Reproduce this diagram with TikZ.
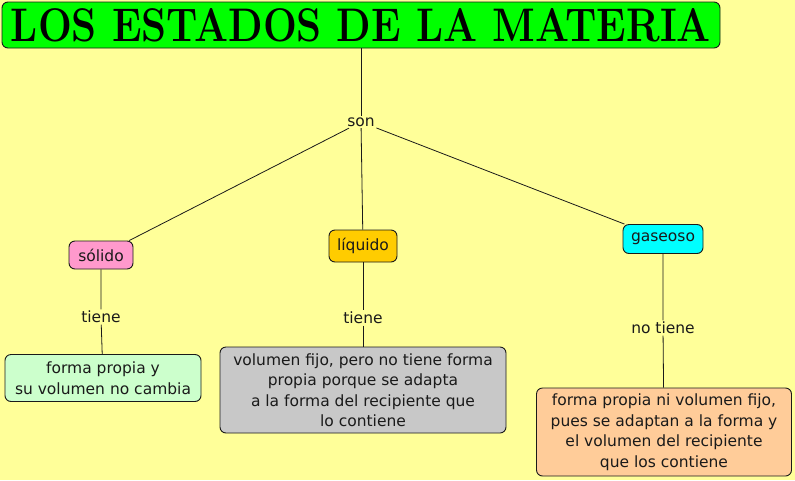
\documentclass[tikz,border=0pt]{standalone}
\usepackage{fontspec}
\setsansfont{DejaVu Sans}
\usetikzlibrary{positioning}
\definecolor{Paper}{HTML}{FFFF99}
\definecolor{TitleGreen}{HTML}{00FF00}
\definecolor{SolidPink}{HTML}{FF99CC}
\definecolor{LiquidGold}{HTML}{FFCC00}
\definecolor{GasCyan}{HTML}{00FFFF}
\definecolor{MintBox}{HTML}{CCFFCC}
\definecolor{GreyBox}{HTML}{C8C8C8}
\definecolor{PeachBox}{HTML}{FFCC99}
\definecolor{Ink}{HTML}{1A1A1A}
\tikzset{
  concept/.style={draw=Ink,line width=0.9pt,rounded corners=6pt,inner sep=2pt,
    font=\sffamily\fontsize{15.5}{20.5}\selectfont,text=Ink,align=center},
  linkword/.style={fill=Paper,inner sep=1.5pt,font=\sffamily\fontsize{15.5}{20.5}\selectfont,text=Ink},
  link/.style={draw=Ink,line width=0.8pt}
}
\begin{document}
\begin{tikzpicture}[x=1pt,y=-1pt]
\useasboundingbox[fill=Paper] (0,0) rectangle (795,480);
% title
\node[concept,fill=TitleGreen,minimum width=718pt,minimum height=46pt,text=black] (title) at (361,25)
  {\resizebox{700pt}{33pt}{\rmfamily\bfseries LOS ESTADOS DE LA MATERIA}};
\node[linkword] (son) at (361,122) {son};
% states
\node[concept,fill=SolidPink,minimum width=64pt,minimum height=28pt] (solido) at (101,255) {sólido};
\node[concept,fill=LiquidGold,minimum width=68pt,minimum height=32pt] (liquido) at (363,246) {líquido};
\node[concept,fill=GasCyan,minimum width=80pt,minimum height=29pt] (gaseoso) at (663,239) {gaseoso};
% link words
\node[linkword] (tiene1) at (101,317) {tiene};
\node[linkword] (tiene2) at (363,318) {tiene};
\node[linkword] (notiene) at (663,328) {no tiene};
% properties
\node[concept,fill=MintBox,minimum width=196pt,minimum height=47pt] (prop1) at (103,378)
  {forma propia y\\su volumen no cambia};
\node[concept,fill=GreyBox,minimum width=286pt,minimum height=86pt] (prop2) at (363,390)
  {volumen fijo, pero no tiene forma\\propia porque se adapta\\a la forma del recipiente que\\lo contiene};
\node[concept,fill=PeachBox,minimum width=255pt,minimum height=88pt] (prop3) at (664,432)
  {forma propia ni volumen fijo,\\pues se adaptan a la forma y\\el volumen del recipiente\\que los contiene};
% connectors
\draw[link] (title) -- (son);
\draw[link] (son) -- (solido);
\draw[link] (son) -- (liquido);
\draw[link] (son) -- (gaseoso);
\draw[link] (solido) -- (tiene1) -- (prop1);
\draw[link] (liquido) -- (tiene2) -- (prop2);
\draw[link] (gaseoso) -- (notiene) -- (prop3);
\end{tikzpicture}
\end{document}
